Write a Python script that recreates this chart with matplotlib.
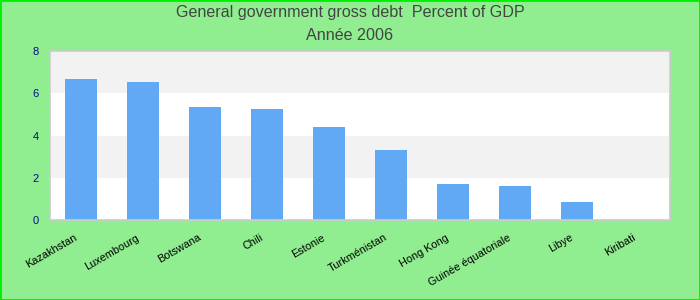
import numpy as np
import matplotlib.pyplot as plt
import matplotlib.transforms as mtransforms
from matplotlib.patches import Rectangle

plt.rcParams['font.family'] = ['Liberation Sans', 'DejaVu Sans']

countries = ['Kazakhstan', 'Luxembourg', 'Botswana', 'Chili', 'Estonie',
             'Turkménistan', 'Hong Kong', 'Guinée équatoriale', 'Libye', 'Kiribati']
debt = [6.68, 6.54, 5.36, 5.26, 4.41, 3.32, 1.71, 1.61, 0.85, 0.0]

fig = plt.figure(figsize=(7, 3), dpi=100, facecolor='#90ee90')
ax = fig.add_axes([50/700, 80/300, 620/700, 169/300])
ax.set_facecolor('white')

# alternating bands
for lo, hi, c in [(0, 2, 'white'), (2, 4, '#f2f2f2'), (4, 6, 'white'), (6, 8, '#f2f2f2')]:
    ax.axhspan(lo, hi, color=c, zorder=0, lw=0)

x = np.arange(len(countries))
ax.bar(x, debt, width=0.52, color='#62a9f5', zorder=2)

ax.set_xlim(-0.5, len(countries) - 0.5)
ax.set_ylim(0, 8)
ax.set_yticks([0, 2, 4, 6, 8])
ax.tick_params(axis='y', length=0, colors='#0a0a8c', labelsize=8, pad=8)
ax.tick_params(axis='x', length=0, labelsize=7.8, pad=9)
ax.set_xticks(x)
ax.set_xticklabels(countries, rotation=30, ha='right', rotation_mode='anchor')
shift = mtransforms.ScaledTranslation(-7/100, 0, fig.dpi_scale_trans)
for lbl in ax.get_xticklabels():
    lbl.set_transform(lbl.get_transform() + shift)

for s in ax.spines.values():
    s.set_color('#cccccc')
    s.set_linewidth(1.2)

fig.text(0.5, 1 - 13/300, 'General government gross debt  Percent of GDP', ha='center',
         va='center', fontsize=11.6, color='#444444')
fig.text(0.5, 1 - 36/300, 'Année 2006', ha='center', va='center', fontsize=11.6, color='#444444')

fig.patches.append(Rectangle((0, 0), 1, 1, transform=fig.transFigure, fill=False,
                             edgecolor='#00ee00', lw=2))

fig.savefig('out.png', facecolor=fig.get_facecolor())
